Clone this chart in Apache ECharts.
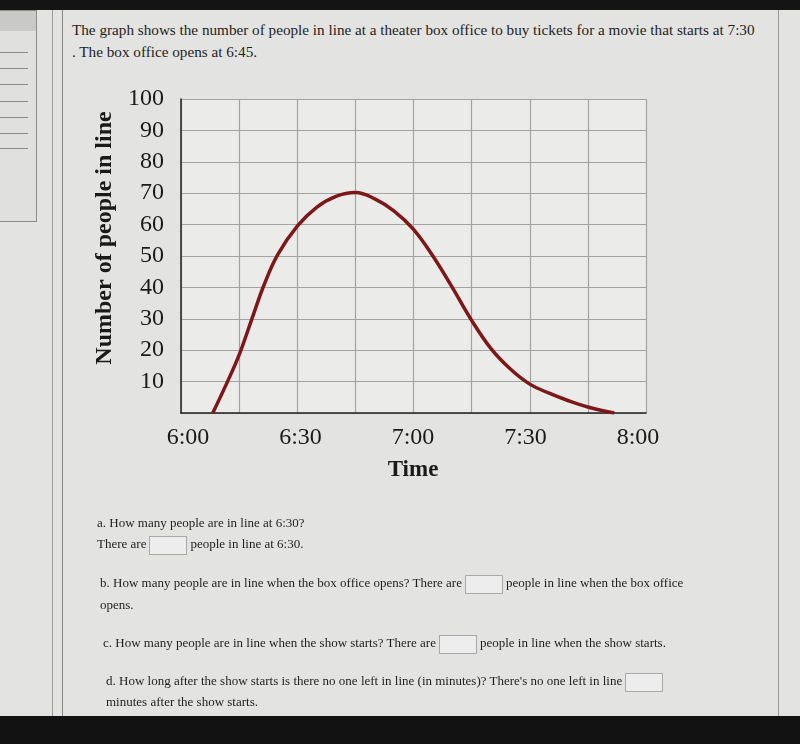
<!DOCTYPE html>
<html>
<head>
<meta charset="utf-8">
<script src="https://cdn.jsdelivr.net/npm/echarts/dist/echarts.min.js"></script>
<style>
  html,body{margin:0;padding:0;width:800px;height:744px;overflow:hidden;background:#e3e3e1;font-family:"Liberation Serif","DejaVu Serif",serif;color:#1e1e1e;}
  #topbar{position:absolute;left:0;top:0;width:800px;height:10px;background:#141414;}
  #botbar{position:absolute;left:0;top:716px;width:800px;height:28px;background:#121212;}
  #sidebox{position:absolute;left:-2px;top:10px;width:38px;height:210px;border:1px solid #8c8c8c;border-left:none;background:#e0e0de;}
  #sidehead{position:absolute;left:0;top:0;width:38px;height:20px;background:#c9c9c7;}
  .sline{position:absolute;left:0;width:30px;height:0;border-top:1px solid #8a8a8a;}
  #vl1{position:absolute;left:52px;top:10px;width:0;height:706px;border-left:1px solid #999;}
  #vl2{position:absolute;left:62px;top:10px;width:0;height:706px;border-left:1px solid #8a8a8a;}
  #vr{position:absolute;left:778px;top:10px;width:0;height:706px;border-left:1px solid #999;}
  #title{position:absolute;left:72px;top:19px;width:700px;font-size:15.2px;line-height:22px;}
  .q{position:absolute;font-size:13px;line-height:21px;white-space:nowrap;}
  .box{display:inline-block;width:36px;height:17px;border:1px solid #a9a9a9;background:#ededed;vertical-align:middle;margin:0 3px;}
  #chart{position:absolute;left:0;top:0;width:800px;height:744px;}
</style>
</head>
<body>
<div id="topbar"></div>
<div id="sidebox"><div id="sidehead"></div>
  <div class="sline" style="top:41px"></div>
  <div class="sline" style="top:57px"></div>
  <div class="sline" style="top:73px"></div>
  <div class="sline" style="top:90px"></div>
  <div class="sline" style="top:106px"></div>
  <div class="sline" style="top:122px"></div>
  <div class="sline" style="top:137px"></div>
</div>
<div id="vl1"></div><div id="vl2"></div><div id="vr"></div>
<div id="title">The graph shows the number of people in line at a theater box office to buy tickets for a movie that starts at 7:30<br>. The box office opens at 6:45.</div>
<div id="chart"></div>
<div class="q" style="left:97px;top:512px;">a. How many people are in line at 6:30?</div>
<div class="q" style="left:97px;top:533px;">There are<span class="box"></span>people in line at 6:30.</div>
<div class="q" style="left:100px;top:572px;">b. How many people are in line when the box office opens? There are<span class="box"></span>people in line when the box office</div>
<div class="q" style="left:100px;top:594px;">opens.</div>
<div class="q" style="left:103px;top:632px;">c. How many people are in line when the show starts? There are<span class="box"></span>people in line when the show starts.</div>
<div class="q" style="left:106px;top:670px;">d. How long after the show starts is there no one left in line (in minutes)? There's no one left in line<span class="box"></span></div>
<div class="q" style="left:106px;top:691px;">minutes after the show starts.</div>
<div id="botbar"></div>
<script>
// minutes after 6:00
const minutes = [8.2, 12, 15, 18.3, 21.5, 25, 30, 35, 40, 45, 50, 55, 60, 65, 70, 75, 80, 85, 90, 95, 100, 105, 111.8];
const people  = [0, 10, 18.5, 30, 41, 50.5, 59.5, 65.5, 69, 70.2, 68.2, 64.3, 58.5, 50, 40, 29.5, 20.5, 14, 9.2, 6.3, 3.9, 1.9, 0];
const timeLabels = ['6:00', '6:30', '7:00', '7:30', '8:00'];
const yTicks = [0, 10, 20, 30, 40, 50, 60, 70, 80, 90, 100];

const serif = '"Liberation Serif", "DejaVu Serif", serif';
const chart = echarts.init(document.getElementById('chart'), null, {renderer: 'canvas'});
chart.setOption({
  backgroundColor: 'transparent',
  animation: false,
  grid: [
    {left: 181, right: 154, top: 99, height: 314, show: true, backgroundColor: '#ebebea', borderWidth: 0},
    {left: 188, right: 162, top: 99, height: 314, show: false}
  ],
  xAxis: [
    {
      type: 'value', gridIndex: 0, min: 0, max: 120, interval: 15,
      axisLine: {show: true, onZero: false, lineStyle: {color: '#222', width: 1.5}},
      axisTick: {show: false}, axisLabel: {show: false},
      splitLine: {show: true, lineStyle: {color: '#a3a3a3', width: 1.2}}
    },
    {
      type: 'category', gridIndex: 1, data: timeLabels, boundaryGap: false,
      axisLine: {show: false}, axisTick: {show: false},
      axisLabel: {show: true, margin: 13, fontFamily: serif, fontSize: 24, color: '#1a1a1a', interval: 0},
      splitLine: {show: false},
      name: 'Time', nameLocation: 'middle', nameGap: 46,
      nameTextStyle: {fontFamily: serif, fontSize: 23, fontWeight: 'bold', color: '#1a1a1a'}
    }
  ],
  yAxis: [
    {
      type: 'value', gridIndex: 0, min: 0, max: 100, interval: 10,
      axisLine: {show: true, lineStyle: {color: '#222', width: 1.5}},
      axisTick: {show: false},
      axisLabel: {show: true, margin: 17, fontFamily: serif, fontSize: 24, color: '#1a1a1a',
        formatter: v => (yTicks.includes(v) && v !== 0) ? String(v) : ''},
      splitLine: {show: true, lineStyle: {color: '#a3a3a3', width: 1.2}},
      name: 'Number of people in line', nameLocation: 'middle', nameGap: 62, nameRotate: 90,
      nameTextStyle: {fontFamily: serif, fontSize: 24, fontWeight: 'bold', color: '#1a1a1a', padding: [0, 0, 0, 36]}
    },
    {type: 'value', gridIndex: 1, show: false, min: 0, max: 100}
  ],
  series: [{
    type: 'line', xAxisIndex: 0, yAxisIndex: 0,
    data: minutes.map((m, i) => [m, people[i]]),
    smooth: 0.4, showSymbol: false, symbol: 'none',
    lineStyle: {color: '#7e1717', width: 3.5},
    z: 5
  }]
});
</script>
</body>
</html>
